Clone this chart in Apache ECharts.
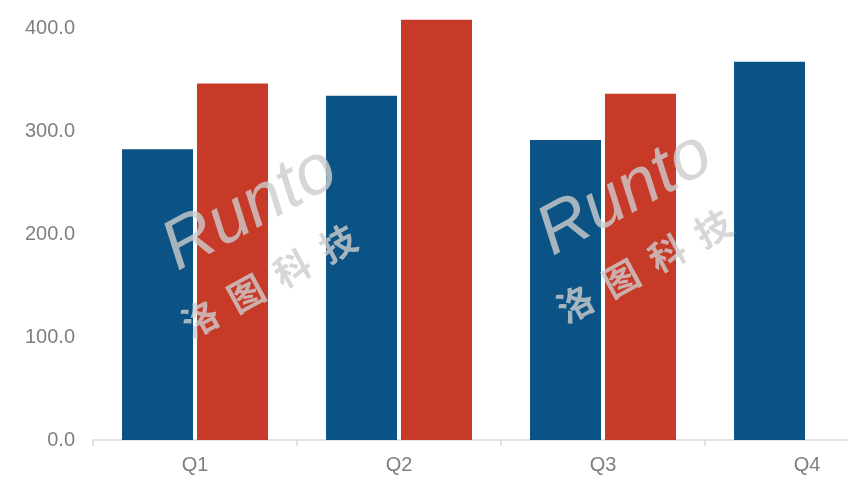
<!DOCTYPE html>
<html><head><meta charset="utf-8">
<script src="https://cdn.jsdelivr.net/npm/echarts@6/dist/echarts.min.js"></script>
<style>html,body{margin:0;padding:0;background:#fff;overflow:hidden;width:848px;height:477px}#c{width:909px;height:477px}</style>
</head><body><div id="c"></div>
<script>
const categories = ['Q1', 'Q2', 'Q3', 'Q4'];
const seriesA = [283, 335, 292, 368];
const seriesB = [347, 409, 337, null];
const yTicks = [0, 100, 200, 300, 400];

const chart = echarts.init(document.getElementById('c'), null, {renderer: 'canvas'});
const wmFill = 'rgba(205,205,205,0.8)';
function watermark(x, y) {
  return [
    {type: 'text', x: x, y: y, rotation: 0.5, z: 100,
     style: {text: 'Runto', fontSize: 70, fontStyle: 'italic', fill: wmFill, fontFamily: 'Liberation Sans, Arial, sans-serif', textVerticalAlign: 'bottom'}},
    {type: 'text', x: x + 8, y: y + 58, rotation: 0.5, z: 100,
     style: {text: '洛  图  科  技', fontSize: 36, fontWeight: 'bold', fontFamily: 'Noto Sans CJK SC', fill: wmFill, textVerticalAlign: 'bottom'}}
  ];
}
chart.setOption({
  animation: false,
  grid: {left: 93, right: 0, top: 18.7, bottom: 37, containLabel: false},
  xAxis: {
    type: 'category', data: categories,
    axisLine: {lineStyle: {color: '#d9d9d9', width: 1.5}},
    axisTick: {show: true, length: 6, lineStyle: {color: '#d9d9d9', width: 1.5}},
    axisLabel: {color: '#808080', fontSize: 20, fontFamily: 'Liberation Sans, Arial, sans-serif', margin: 15}
  },
  yAxis: {
    type: 'value', min: 0, max: 410, interval: 100,
    axisLine: {show: false}, axisTick: {show: false}, splitLine: {show: false},
    axisLabel: {color: '#808080', fontSize: 20, fontFamily: 'Liberation Sans, Arial, sans-serif',
      showMaxLabel: false, margin: 18,
      formatter: v => yTicks.includes(v) ? v.toFixed(1) : ''}
  },
  series: [
    {type: 'bar', name: 'A', data: seriesA, barWidth: 71, barGap: '5.6%', itemStyle: {color: '#0b5384'}},
    {type: 'bar', name: 'B', data: seriesB, barWidth: 71, barGap: '5.6%', itemStyle: {color: '#c83a28'}}
  ],
  graphic: [].concat(watermark(185, 285), watermark(560, 270))
});
</script>
</body></html>
